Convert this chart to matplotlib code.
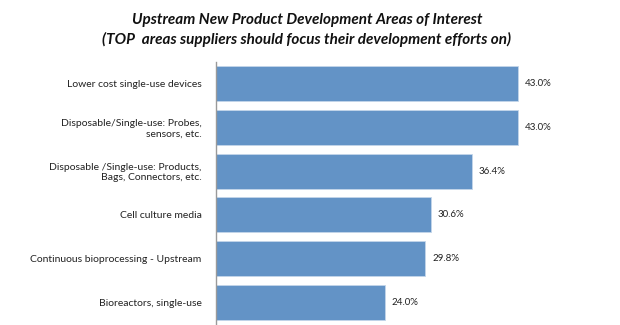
import matplotlib.pyplot as plt

plt.rcParams['font.family'] = ['Lato', 'DejaVu Sans']

# 数据
categories = [
    'Lower cost single-use devices',
    'Disposable/Single-use: Probes,\nsensors, etc.',
    'Disposable /Single-use: Products,\nBags, Connectors, etc.',
    'Cell culture media',
    'Continuous bioprocessing - Upstream',
    'Bioreactors, single-use',
]
values = [43.0, 43.0, 36.4, 30.6, 29.8, 24.0]

fig = plt.figure(figsize=(6.2, 3.25), dpi=100)
fig.patch.set_facecolor('white')
ax = fig.add_axes([216 / 620, 1 - 324 / 325, 1 - 216 / 620, (324 - 62) / 325])

ypos = range(len(values))
bars = ax.barh(ypos, values, height=0.8, color='#6393c6',
               edgecolor='#c4d6ea', linewidth=0.6)

# 数值标签
for bar, v in zip(bars, values):
    ax.text(bar.get_width() + 1.0, bar.get_y() + bar.get_height() / 2,
            f'{v:.1f}%', va='center', ha='left', fontsize=7, color='#222222')

ax.set_xlim(0, 57.5)
ax.set_ylim(5.5, -0.5)
ax.set_yticks(list(ypos))
ax.set_yticklabels(categories, fontsize=7.5, color='#222222', linespacing=1.15)
ax.tick_params(axis='y', length=0, pad=10.5)
ax.set_xticks([])

for spine in ['top', 'right', 'bottom']:
    ax.spines[spine].set_visible(False)
ax.spines['left'].set_color('#9a9a9a')
ax.spines['left'].set_linewidth(1.0)

# 标题
fig.text(0.495, 1 - 20 / 325, 'Upstream New Product Development Areas of Interest',
         ha='center', va='center', fontsize=11, fontweight='bold', style='italic',
         color='#111111')
fig.text(0.495, 1 - 39 / 325, '(TOP  areas suppliers should focus their development efforts on)',
         ha='center', va='center', fontsize=11, fontweight='bold', style='italic',
         color='#111111')

fig.savefig('out.png', dpi=100, facecolor='white')
